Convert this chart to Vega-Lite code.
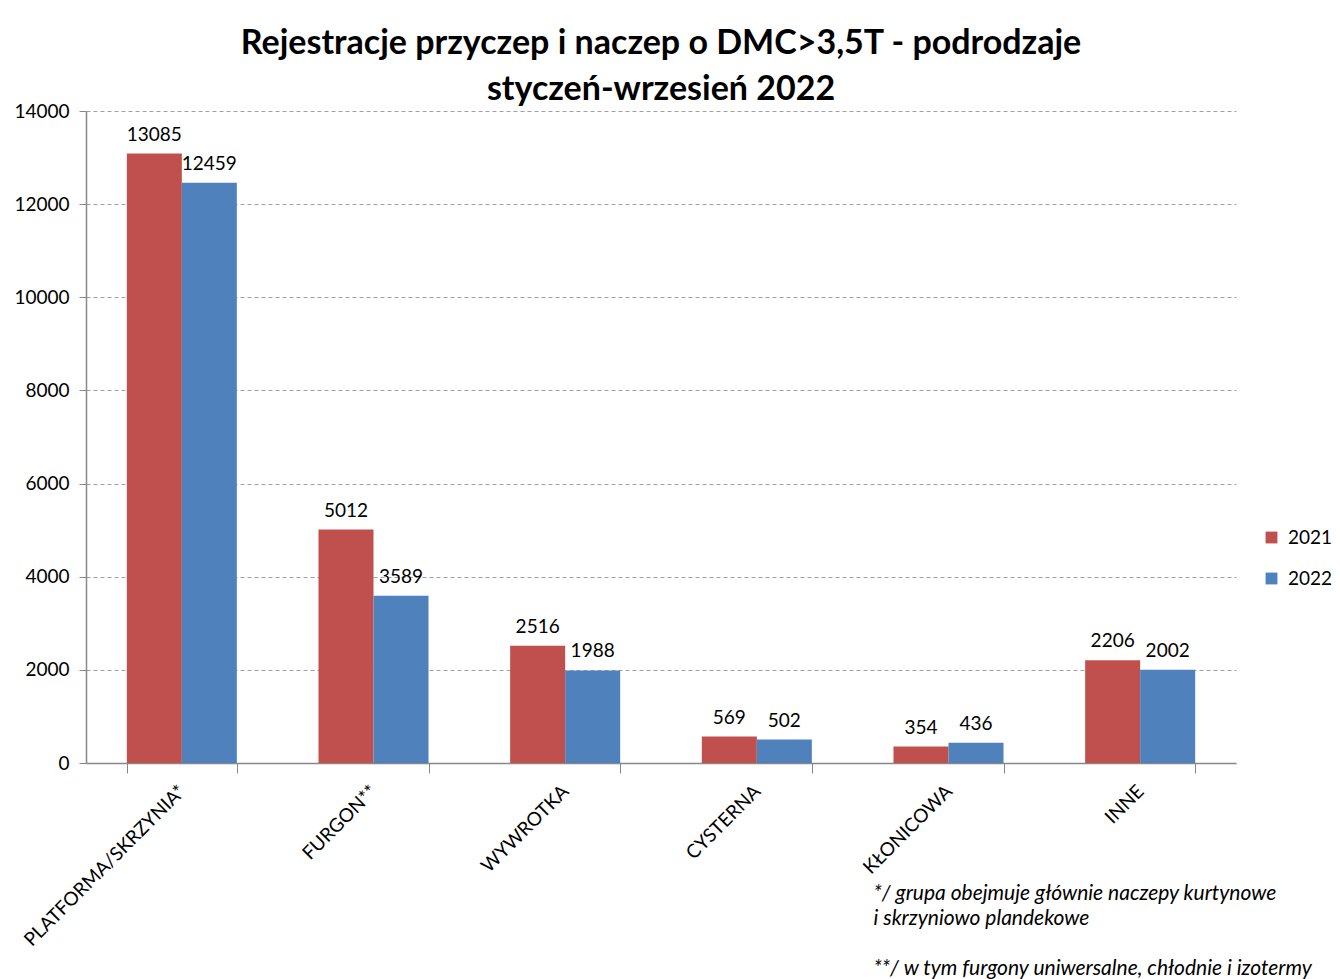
{
  "$schema": "https://vega.github.io/schema/vega-lite/v6.json",
  "autosize": "none",
  "width": 1150,
  "height": 652,
  "padding": {"left": 86, "top": 111, "right": 104, "bottom": 216},
  "background": "white",
  "title": {
    "text": ["Rejestracje przyczep i naczep o DMC>3,5T - podrodzaje", "styczeń-wrzesień 2022"],
    "font": "Lato",
    "fontSize": 34,
    "fontWeight": "bold",
    "color": "#000000",
    "lineHeight": 46,
    "anchor": "middle",
    "offset": -5
  },
  "data": {
    "values": [
      {"kategoria": "PLATFORMA/SKRZYNIA*", "rok": "2021", "liczba": 13085},
      {"kategoria": "PLATFORMA/SKRZYNIA*", "rok": "2022", "liczba": 12459},
      {"kategoria": "FURGON**", "rok": "2021", "liczba": 5012},
      {"kategoria": "FURGON**", "rok": "2022", "liczba": 3589},
      {"kategoria": "WYWROTKA", "rok": "2021", "liczba": 2516},
      {"kategoria": "WYWROTKA", "rok": "2022", "liczba": 1988},
      {"kategoria": "CYSTERNA", "rok": "2021", "liczba": 569},
      {"kategoria": "CYSTERNA", "rok": "2022", "liczba": 502},
      {"kategoria": "KŁONICOWA", "rok": "2021", "liczba": 354},
      {"kategoria": "KŁONICOWA", "rok": "2022", "liczba": 436},
      {"kategoria": "INNE", "rok": "2021", "liczba": 2206},
      {"kategoria": "INNE", "rok": "2022", "liczba": 2002}
    ]
  },
  "encoding": {
    "x": {
      "field": "kategoria",
      "type": "nominal",
      "sort": null,
      "scale": {"paddingInner": 0.426, "paddingOuter": 0.213},
      "axis": {
        "title": ["*/ grupa obejmuje głównie naczepy kurtynowe", "i skrzyniowo plandekowe", "\u2800", "**/ w tym furgony uniwersalne, chłodnie i izotermy"],
        "titleFont": "Lato",
        "titleFontStyle": "italic",
        "titleFontWeight": "normal",
        "titleFontSize": 21,
        "titleColor": "#000000",
        "titleLineHeight": 25,
        "titleAlign": "left",
        "titleAnchor": null,
        "titleBaseline": "middle",
        "titleX": 787,
        "titleY": 130,
        "labelAngle": -45,
        "labelAlign": "right",
        "labelBaseline": "middle",
        "labelFont": "Lato",
        "labelFontSize": 19,
        "labelColor": "#000000",
        "labelPadding": 15,
        "labelLimit": 0,
        "tickBand": "extent",
        "tickSize": 10,
        "tickColor": "#888888",
        "domainColor": "#888888",
        "domainWidth": 1.5,
        "grid": false
      }
    },
    "xOffset": {"field": "rok", "type": "nominal", "scale": {"paddingInner": 0, "paddingOuter": 0}},
    "y": {
      "field": "liczba",
      "type": "quantitative",
      "scale": {"domain": [0, 14000], "nice": false},
      "axis": {
        "title": null,
        "values": [0, 2000, 4000, 6000, 8000, 10000, 12000, 14000],
        "format": "d",
        "labelFont": "Lato",
        "labelFontSize": 19,
        "labelColor": "#000000",
        "labelPadding": 10,
        "tickSize": 7,
        "tickColor": "#888888",
        "domainColor": "#888888",
        "domainWidth": 1.5,
        "grid": true,
        "gridColor": "#a0a0a0",
        "gridDash": [4, 3],
        "gridWidth": 1
      }
    }
  },
  "layer": [
    {
      "mark": {"type": "bar"},
      "encoding": {
        "color": {
          "field": "rok",
          "type": "nominal",
          "scale": {"domain": ["2021", "2022"], "range": ["#C0504D", "#4F81BD"]},
          "legend": {
            "title": null,
            "orient": "none",
            "legendX": 1176,
            "legendY": 417,
            "symbolType": "square",
            "symbolSize": 140,
            "symbolStrokeWidth": 0,
            "labelFont": "Lato",
            "labelFontSize": 19,
            "labelColor": "#000000",
            "rowPadding": 21,
            "labelOffset": 7
          }
        }
      }
    },
    {
      "mark": {"type": "text", "baseline": "bottom", "dy": -9, "font": "Lato", "fontSize": 19, "color": "#000000"},
      "encoding": {"text": {"field": "liczba", "type": "quantitative", "format": "d"}}
    }
  ],
  "config": {"view": {"stroke": null}}
}
